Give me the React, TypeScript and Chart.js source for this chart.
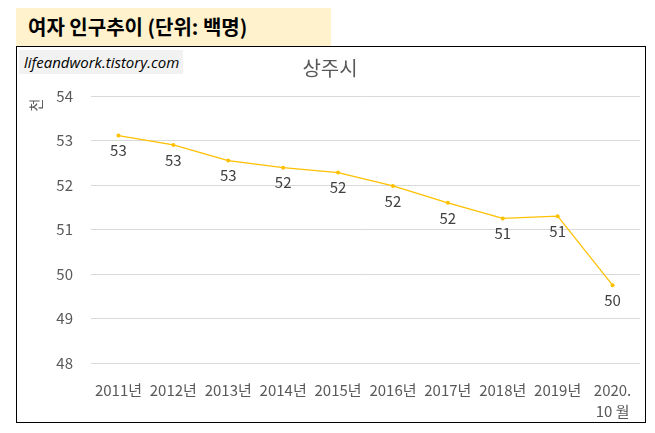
import React, { useEffect, useRef } from 'react';
import { Chart, registerables } from 'chart.js';

Chart.register(...registerables);

const years: (string | string[])[] = [
  '2011년', '2012년', '2013년', '2014년', '2015년',
  '2016년', '2017년', '2018년', '2019년', ['2020.', '10 월'],
];
// 여자 인구 (천 명)
const femalePop = [53.11, 52.9, 52.55, 52.39, 52.28, 51.98, 51.6, 51.25, 51.3, 49.75];
const yTicks = [48, 49, 50, 51, 52, 53, 54];

const FONT = "'Noto Sans CJK KR', 'Noto Sans', sans-serif";

const extras = {
  id: 'extras',
  afterDatasetsDraw(chart: any) {
    const ctx = chart.ctx;
    const meta = chart.getDatasetMeta(0);
    ctx.save();
    ctx.font = `15px ${FONT}`;
    ctx.fillStyle = '#404040';
    ctx.textAlign = 'center';
    ctx.textBaseline = 'middle';
    meta.data.forEach((pt: any, i: number) => {
      ctx.fillText(String(Math.round(femalePop[i])), pt.x, pt.y + 15);
    });
    ctx.restore();
  },
  afterDraw(chart: any) {
    const ctx = chart.ctx;
    ctx.save();
    // chart title
    ctx.font = `20px ${FONT}`;
    ctx.fillStyle = '#595959';
    ctx.textAlign = 'center';
    ctx.textBaseline = 'middle';
    ctx.fillText('상주시', 313, 21);
    // y axis unit
    ctx.font = `14px ${FONT}`;
    ctx.translate(19, 58);
    ctx.rotate(-Math.PI / 2);
    ctx.fillText('천', 0, 0);
    ctx.restore();
  },
};

const App: React.FC = () => {
  const chartRef = useRef<HTMLCanvasElement | null>(null);

  useEffect(() => {
    document.body.style.margin = '0';
    if (!chartRef.current) return;
    const ctx = chartRef.current.getContext('2d');
    if (!ctx) return;

    const myChart = new Chart(ctx, {
      type: 'line',
      data: {
        labels: years,
        datasets: [
          {
            label: '여자 인구',
            data: femalePop,
            borderColor: '#FFC000',
            backgroundColor: '#FFC000',
            borderWidth: 1.25,
            pointRadius: 2,
            pointBorderWidth: 0,
            tension: 0,
          },
        ],
      },
      options: {
        responsive: false,
        animation: false,
        layout: { padding: { top: 49, right: 5, left: 0, bottom: 0 } },
        plugins: {
          legend: { display: false },
          title: { display: false },
          tooltip: { enabled: false },
        },
        scales: {
          x: {
            offset: true,
            grid: { display: false },
            border: { display: false },
            ticks: {
              color: '#595959',
              font: { family: FONT, size: 15, lineHeight: 1.45 },
              padding: 8,
              maxRotation: 0,
              autoSkip: false,
            },
            afterFit: (s: any) => { s.height = 59; },
          },
          y: {
            min: yTicks[0],
            max: yTicks[yTicks.length - 1],
            grid: { color: '#D9D9D9', drawTicks: false },
            border: { display: false },
            ticks: {
              stepSize: 1,
              color: '#595959',
              font: { family: FONT, size: 15 },
              padding: 18,
            },
            afterFit: (s: any) => { s.width = 74; },
          },
        },
      },
      plugins: [extras],
    });

    return () => {
      myChart.destroy();
    };
  }, []);

  return (
    <div style={{ position: 'relative', width: 655, height: 433, background: '#fff', fontFamily: FONT }}>
      <div
        style={{
          position: 'absolute', left: 16, top: 8, width: 315, height: 38,
          background: '#FFF2CC', boxSizing: 'border-box', paddingLeft: 12,
          fontWeight: 'bold', fontSize: 20, lineHeight: '38px', color: '#000',
        }}
      >
        여자 인구추이 (단위: 백명)
      </div>
      <div
        style={{
          position: 'absolute', left: 16, top: 46, width: 630, height: 377,
          border: '1px solid #000', boxSizing: 'border-box',
        }}
      >
        <canvas ref={chartRef} width={628} height={375} style={{ position: 'absolute', left: 0, top: 0 }} />
        <div
          style={{
            position: 'absolute', left: 2, top: 3, width: 164, height: 24,
            background: '#F2F2F2', fontStyle: 'italic', fontSize: 15,
            lineHeight: '24px', paddingLeft: 5, boxSizing: 'border-box', color: '#000',
            fontFamily: "'Open Sans', sans-serif",
          }}
        >
          lifeandwork.tistory.com
        </div>
      </div>
    </div>
  );
};

export default App;
